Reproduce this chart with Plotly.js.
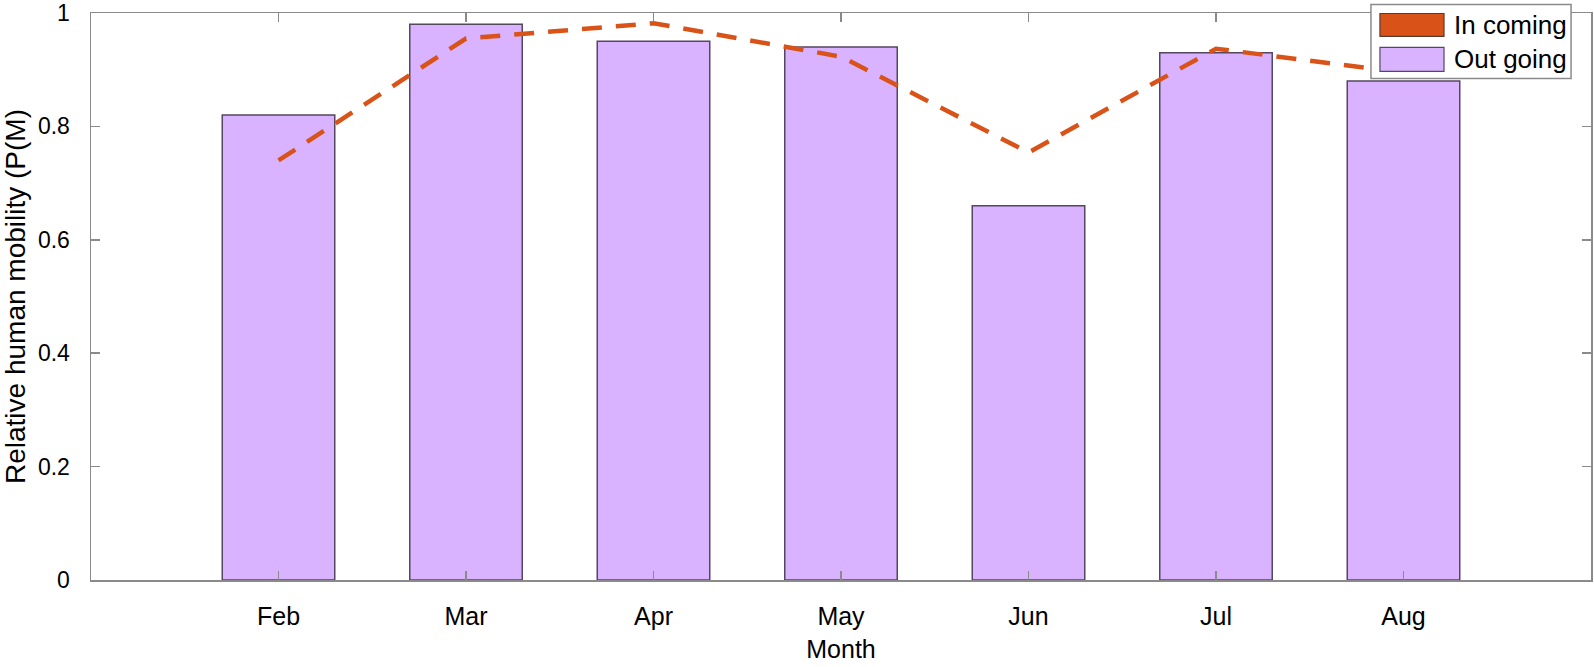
<!DOCTYPE html>
<html>
<head>
<meta charset="utf-8">
<script src="https://cdn.plot.ly/plotly-3.0.1.min.js"></script>
<style>html,body{margin:0;padding:0;background:#fff;}#chart{width:1594px;height:667px;}</style>
</head>
<body>
<div id="chart"></div>
<script>
const months = ["Feb", "Mar", "Apr", "May", "Jun", "Jul", "Aug"];
const monthIndex = [1, 2, 3, 4, 5, 6, 7];
const outGoing = [0.82, 0.98, 0.95, 0.94, 0.66, 0.93, 0.88];
const inComing = [0.74, 0.955, 0.982, 0.923, 0.754, 0.937, 0.895];
const yTicks = [0, 0.2, 0.4, 0.6, 0.8, 1];
const yTickText = ["0", "0.2", "0.4", "0.6", "0.8", "1"];
const seriesNames = ["In coming", "Out going"];

const inColor = "#D95319";
const outColor = "#D9B3FF";
const edgeColor = "#54475f";
const axisGray = "#8a8a8a";
const font = "Liberation Sans, Arial, Helvetica, sans-serif";

const traces = [
  {
    type: "bar", x: monthIndex, y: outGoing, name: seriesNames[1], width: 0.6,
    marker: {color: outColor, line: {color: edgeColor, width: 1.5}},
    showlegend: false, hoverinfo: "x+y"
  },
  {
    type: "scatter", mode: "lines", x: monthIndex, y: inComing, name: seriesNames[0],
    line: {color: inColor, width: 4.5, dash: "20px,14px"},
    showlegend: false
  }
];

// hand-drawn MATLAB-style legend (paper coords)
const L = {x0: 0.8533, x1: 0.9867, y0: 0.8846, y1: 1.015};
const shapes = [
  {type: "rect", xref: "paper", yref: "paper", x0: L.x0, x1: L.x1, y0: L.y0, y1: L.y1,
   fillcolor: "#ffffff", line: {color: axisGray, width: 1.5}, layer: "above"},
  {type: "rect", xref: "paper", yref: "paper", x0: 0.8593, x1: 0.9020, y0: 0.9586, y1: 0.9991,
   fillcolor: inColor, line: {color: "#5a3a2a", width: 1.2}, layer: "above"},
  {type: "rect", xref: "paper", yref: "paper", x0: 0.8593, x1: 0.9020, y0: 0.8969, y1: 0.9392,
   fillcolor: outColor, line: {color: edgeColor, width: 1.2}, layer: "above"}
];
const annotations = [
  {xref: "paper", yref: "paper", x: 0.9070, y: 0.9790, text: seriesNames[0], showarrow: false,
   xanchor: "left", yanchor: "middle", font: {family: font, size: 26, color: "#000"}},
  {xref: "paper", yref: "paper", x: 0.9070, y: 0.9180, text: seriesNames[1], showarrow: false,
   xanchor: "left", yanchor: "middle", font: {family: font, size: 26, color: "#000"}}
];

const layout = {
  width: 1594, height: 667,
  margin: {l: 91, r: 3, t: 12.5, b: 87},
  paper_bgcolor: "#ffffff", plot_bgcolor: "#ffffff",
  font: {family: font, size: 22, color: "#000"},
  showlegend: false,
  bargap: 0,
  xaxis: {
    range: [0, 8], tickmode: "array", tickvals: monthIndex, ticktext: months,
    showline: true, linecolor: axisGray, linewidth: 1.5, mirror: "ticks",
    ticks: "inside", ticklen: 9, tickwidth: 1.5, tickcolor: axisGray,
    showgrid: false, zeroline: false, ticklabelstandoff: 13,
    tickfont: {family: font, size: 25, color: "#000"},
    title: {text: "Month", font: {family: font, size: 25, color: "#000"}, standoff: 12}
  },
  yaxis: {
    range: [0, 1], tickmode: "array", tickvals: yTicks, ticktext: yTickText,
    showline: true, linecolor: axisGray, linewidth: 1.5, mirror: "ticks",
    ticks: "inside", ticklen: 9, tickwidth: 1.5, tickcolor: axisGray,
    showgrid: false, zeroline: false, ticklabelstandoff: 15,
    tickfont: {family: font, size: 23, color: "#000"},
    title: {text: "Relative human mobility (P(M)", font: {family: font, size: 28, color: "#000"}, standoff: 8}
  },
  shapes: shapes,
  annotations: annotations
};

Plotly.newPlot("chart", traces, layout, {displayModeBar: false, staticPlot: true});
</script>
</body>
</html>
